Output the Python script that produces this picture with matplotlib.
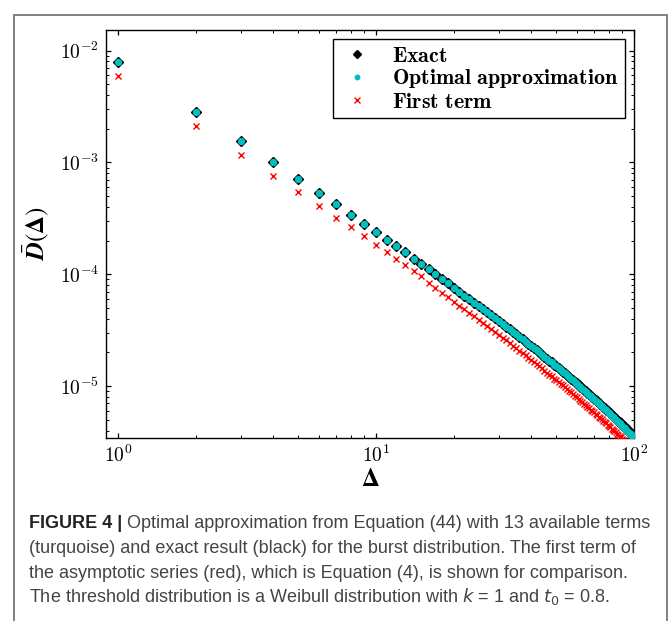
import matplotlib
matplotlib.use('Agg')
import matplotlib.pyplot as plt
from matplotlib.ticker import LogLocator, FuncFormatter, NullFormatter
from matplotlib.patches import Rectangle
import math

plt.rcParams['mathtext.fontset'] = 'cm'

# ---------------- data ----------------
delta = list(range(1, 101))

exact = [7.90e-3, 2.84e-3, 1.56e-3, 1.00e-3, 7.10e-4, 5.37e-4, 4.22e-4, 3.42e-4, 2.84e-4, 2.40e-4,
         2.04e-4, 1.78e-4, 1.57e-4, 1.38e-4, 1.24e-4, 1.11e-4, 1.01e-4, 9.10e-5, 8.30e-5, 7.60e-5,
         6.99e-5, 6.46e-5, 6.00e-5, 5.58e-5, 5.21e-5, 4.87e-5, 4.57e-5, 4.29e-5, 4.04e-5, 3.81e-5,
         3.59e-5, 3.40e-5, 3.22e-5, 3.06e-5, 2.90e-5, 2.76e-5, 2.63e-5, 2.50e-5, 2.39e-5, 2.28e-5,
         2.18e-5, 2.09e-5, 2.00e-5, 1.91e-5, 1.84e-5, 1.76e-5, 1.69e-5, 1.63e-5, 1.56e-5, 1.51e-5,
         1.45e-5, 1.40e-5, 1.35e-5, 1.30e-5, 1.25e-5, 1.21e-5, 1.17e-5, 1.13e-5, 1.09e-5, 1.06e-5,
         1.02e-5, 9.90e-6, 9.59e-6, 9.29e-6, 9.01e-6, 8.74e-6, 8.47e-6, 8.21e-6, 7.98e-6, 7.74e-6,
         7.53e-6, 7.31e-6, 7.11e-6, 6.90e-6, 6.71e-6, 6.52e-6, 6.35e-6, 6.18e-6, 6.01e-6, 5.85e-6,
         5.70e-6, 5.55e-6, 5.41e-6, 5.26e-6, 5.13e-6, 5.00e-6, 4.88e-6, 4.76e-6, 4.64e-6, 4.52e-6,
         4.42e-6, 4.31e-6, 4.21e-6, 4.11e-6, 4.01e-6, 3.92e-6, 3.83e-6, 3.74e-6, 3.66e-6, 3.57e-6]

optimal = [7.90e-3, 2.84e-3, 1.56e-3, 1.00e-3, 7.10e-4, 5.37e-4, 4.22e-4, 3.42e-4, 2.84e-4, 2.40e-4,
           2.04e-4, 1.78e-4, 1.57e-4, 1.38e-4, 1.24e-4, 1.11e-4, 1.01e-4, 9.10e-5, 8.30e-5, 7.60e-5,
           6.99e-5, 6.46e-5, 6.00e-5, 5.58e-5, 5.21e-5, 4.87e-5, 4.57e-5, 4.29e-5, 4.04e-5, 3.81e-5,
           3.59e-5, 3.40e-5, 3.22e-5, 3.06e-5, 2.90e-5, 2.76e-5, 2.63e-5, 2.50e-5, 2.39e-5, 2.28e-5,
           2.18e-5, 2.09e-5, 2.00e-5, 1.91e-5, 1.84e-5, 1.76e-5, 1.69e-5, 1.63e-5, 1.56e-5, 1.51e-5,
           1.45e-5, 1.40e-5, 1.35e-5, 1.30e-5, 1.25e-5, 1.21e-5, 1.17e-5, 1.13e-5, 1.09e-5, 1.05e-5,
           1.01e-5, 9.82e-6, 9.50e-6, 9.20e-6, 8.92e-6, 8.64e-6, 8.37e-6, 8.11e-6, 7.88e-6, 7.64e-6,
           7.42e-6, 7.20e-6, 7.00e-6, 6.79e-6, 6.60e-6, 6.41e-6, 6.23e-6, 6.06e-6, 5.89e-6, 5.73e-6,
           5.58e-6, 5.43e-6, 5.29e-6, 5.14e-6, 5.01e-6, 4.88e-6, 4.76e-6, 4.64e-6, 4.52e-6, 4.40e-6,
           4.30e-6, 4.19e-6, 4.09e-6, 3.99e-6, 3.89e-6, 3.80e-6, 3.71e-6, 3.62e-6, 3.54e-6, 3.45e-6]

first_term = [5.90e-3, 2.14e-3, 1.17e-3, 7.60e-4, 5.40e-4, 4.07e-4, 3.22e-4, 2.63e-4, 2.19e-4, 1.84e-4,
              1.59e-4, 1.38e-4, 1.22e-4, 1.08e-4, 9.70e-5, 8.35e-5, 7.59e-5, 6.84e-5, 6.24e-5, 5.71e-5,
              5.26e-5, 4.86e-5, 4.51e-5, 4.20e-5, 3.92e-5, 3.66e-5, 3.44e-5, 3.23e-5, 3.04e-5, 2.86e-5,
              2.70e-5, 2.56e-5, 2.42e-5, 2.30e-5, 2.18e-5, 2.08e-5, 1.98e-5, 1.88e-5, 1.80e-5, 1.71e-5,
              1.64e-5, 1.57e-5, 1.50e-5, 1.44e-5, 1.38e-5, 1.32e-5, 1.27e-5, 1.23e-5, 1.17e-5, 1.14e-5,
              1.09e-5, 1.05e-5, 1.02e-5, 9.77e-6, 9.40e-6, 9.10e-6, 8.80e-6, 8.50e-6, 8.20e-6, 7.97e-6,
              7.67e-6, 7.44e-6, 7.21e-6, 6.98e-6, 6.77e-6, 6.57e-6, 6.37e-6, 6.17e-6, 6.00e-6, 5.82e-6,
              5.66e-6, 5.50e-6, 5.35e-6, 5.19e-6, 5.05e-6, 4.90e-6, 4.77e-6, 4.65e-6, 4.52e-6, 4.40e-6,
              4.29e-6, 4.17e-6, 4.07e-6, 3.95e-6, 3.86e-6, 3.76e-6, 3.67e-6, 3.58e-6, 3.49e-6, 3.40e-6,
              3.32e-6, 3.24e-6, 3.17e-6, 3.09e-6, 3.02e-6, 2.95e-6, 2.88e-6, 2.81e-6, 2.75e-6, 2.68e-6]

labels = [r'$\mathbf{Exact}$', r'$\mathbf{Optimal\ approximation}$', r'$\mathbf{First\ term}$']
x_label = r'$\mathbf{\Delta}$'
y_label = r'$\bar{\mathbfit{D}}(\mathbf{\Delta})$'

caption_head = 'FIGURE 4 |'
caption_lines = [
    ' Optimal approximation from Equation (44) with 13 available terms',
    '(turquoise) and exact result (black) for the burst distribution. The first term of',
    'the asymptotic series (red), which is Equation (4), is shown for comparison.',
    'The threshold distribution is a Weibull distribution with $k$ = 1 and $t_0$ = 0.8.',
]

# ---------------- figure ----------------
W, H = 672, 621
fig = plt.figure(figsize=(W / 100, H / 100), dpi=100)
fig.patch.set_facecolor('white')

ax = fig.add_axes([106 / W, 1 - 437.7 / H, (634 - 106) / W, (437.7 - 30) / H])
ax.set_xscale('log')
ax.set_yscale('log')

ax.plot(delta, exact, ls='none', marker='D', ms=4.8, mfc='k', mec='k', mew=1.0,
        label=labels[0], zorder=3)
ax.plot(delta, optimal, ls='none', marker='o', ms=5.3, mfc='c', mec='c', mew=0,
        label=labels[1], zorder=4)
ax.plot(delta, first_term, ls='none', marker='x', ms=5.0, mec='r', mew=1.0,
        label=labels[2], zorder=5)

ax.set_xlim(0.9, 100)
ax.set_ylim(3.46e-6, 1.53e-2)

fmt = FuncFormatter(lambda v, p: r'$\mathbf{10}^{\mathbf{%d}}$' % round(math.log10(v)))
ax.xaxis.set_major_locator(LogLocator(base=10, numticks=10))
ax.yaxis.set_major_locator(LogLocator(base=10, numticks=10))
ax.xaxis.set_minor_locator(LogLocator(base=10, subs=range(2, 10), numticks=50))
ax.yaxis.set_minor_locator(LogLocator(base=10, subs=range(2, 10), numticks=50))
ax.xaxis.set_major_formatter(fmt)
ax.yaxis.set_major_formatter(fmt)
ax.xaxis.set_minor_formatter(NullFormatter())
ax.yaxis.set_minor_formatter(NullFormatter())

ax.tick_params(which='both', direction='in', top=True, right=True, labelsize=14)
ax.tick_params(which='major', length=3.8, width=0.9, pad=5)
ax.tick_params(which='minor', length=2.2, width=0.7)
for s in ax.spines.values():
    s.set_linewidth(1.0)

ax.set_xlabel(x_label, fontsize=18, labelpad=1, math_fontfamily='stix')
ax.set_ylabel(y_label, fontsize=18, labelpad=6, math_fontfamily='stix')

leg = ax.legend(loc='upper right', bbox_to_anchor=(0.983, 0.977), borderaxespad=0,
                fontsize=15.8, fancybox=False, framealpha=1, edgecolor='k',
                markerscale=0.8, handlelength=1.7, handletextpad=0.75, labelspacing=0.08,
                borderpad=0.28)
leg.get_frame().set_linewidth(1.0)

# outer frame
fig.add_artist(Rectangle((14 / W, -0.05), (667 - 14) / W, 1 - 15 / H + 0.05,
                         transform=fig.transFigure, fill=False, ec='#777777', lw=1.3))

# caption
cap_color = '#444444'
fs = 13.0
x0 = 29 / W
baselines = [528, 553, 578, 602]
fig.canvas.draw()
renderer = fig.canvas.get_renderer()
head = fig.text(x0, 1 - baselines[0] / H, caption_head, fontsize=fs, weight='bold',
                family='Liberation Sans', color='#222222', va='baseline')
bb = head.get_window_extent(renderer=renderer)
fig.text(bb.x1 / W, 1 - baselines[0] / H, caption_lines[0], fontsize=fs,
         family='Liberation Sans', color=cap_color, va='baseline')
for i in range(1, 4):
    fig.text(x0, 1 - baselines[i] / H, caption_lines[i], fontsize=fs,
             family='Liberation Sans', color=cap_color, va='baseline',
             math_fontfamily='dejavusans')

fig.savefig('out.png', dpi=100, facecolor='white')
